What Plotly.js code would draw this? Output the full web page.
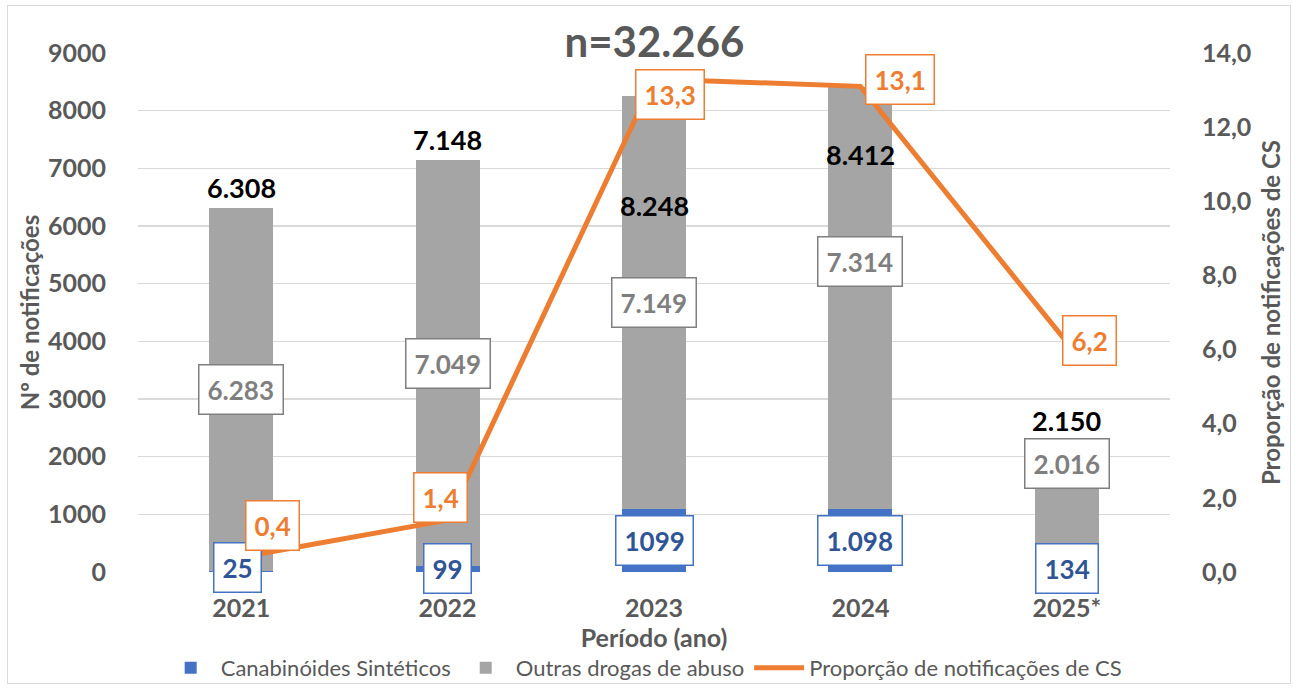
<!DOCTYPE html>
<html>
<head>
<meta charset="utf-8">
<script src="https://cdn.plot.ly/plotly-3.0.1.min.js"></script>
<style>
  html, body { margin: 0; padding: 0; background: #ffffff; }
  #frame { position: absolute; left: 7px; top: 5px; width: 1284px; height: 679px; border: 1.5px solid #d9d9d9; box-sizing: border-box; }
  #chart { position: absolute; left: 0; top: 0; width: 1296px; height: 689px; }
</style>
</head>
<body>
<div id="frame"></div>
<div id="chart"></div>
<script>
// ---- data ----
const years = ['2021', '2022', '2023', '2024', '2025*'];
const csValues = [25, 99, 1099, 1098, 134];
const otherValues = [6283, 7049, 7149, 7314, 2016];
const totalValues = [6308, 7148, 8248, 8412, 2150];
const propValues = [0.4, 1.4, 13.3, 13.1, 6.2];
const csLabels = ['25', '99', '1099', '1.098', '134'];
const otherLabels = ['6.283', '7.049', '7.149', '7.314', '2.016'];
const totalLabels = ['6.308', '7.148', '8.248', '8.412', '2.150'];
const propLabels = ['0,4', '1,4', '13,3', '13,1', '6,2'];
const leftTicks = [0, 1000, 2000, 3000, 4000, 5000, 6000, 7000, 8000, 9000];
const rightTicks = [0, 2, 4, 6, 8, 10, 12, 14];
const rightTickText = ['0,0', '2,0', '4,0', '6,0', '8,0', '10,0', '12,0', '14,0'];
const titleText = 'n=32.266';

// ---- styling ----
const FONT = 'Lato, "Noto Sans", sans-serif';
const BLUE = '#4472c4', GRAY = '#a5a5a5', ORANGE = '#ed7d31';
const TXT = '#595959';

// category positions on the x axis (one slot per year)
const pos = years.map((_, i) => i);

// label offsets (pixels) to mimic the reference placement
const totalShift = [21, 20, -109, -68, 28];
const otherShift = [0, 0, 0, 36, 43];
const csShift = [[-4, 4], [0, 1], [0, 0], [0, 0], [0, 0]];
const propShift = [[31, 32], [-7, 23], [16, -16], [40, 7], [23, 2]];

const traces = [
  { type: 'bar', name: 'Canabinóides Sintéticos', x: pos, y: csValues,
    marker: { color: BLUE }, hoverinfo: 'y' },
  { type: 'bar', name: 'Outras drogas de abuso', x: pos, y: otherValues,
    marker: { color: GRAY }, hoverinfo: 'y' },
  { type: 'scatter', mode: 'lines', name: 'Proporção de notificações de CS', x: pos, y: propValues,
    yaxis: 'y2', line: { color: ORANGE, width: 5 }, hoverinfo: 'y' }
];

const annotations = [];
pos.forEach((p, i) => {
  annotations.push({ x: p, y: totalValues[i], xref: 'x', yref: 'y', text: totalLabels[i],
    showarrow: false, yanchor: 'middle', yshift: totalShift[i],
    font: { family: FONT, size: 27, color: '#000000', weight: 'bold' } });
  annotations.push({ x: p, y: csValues[i] + otherValues[i] / 2, xref: 'x', yref: 'y', text: otherLabels[i],
    showarrow: false, yanchor: 'middle', yshift: otherShift[i],
    font: { family: FONT, size: 26, color: '#7f7f7f', weight: 'bold' },
    bgcolor: '#ffffff', bordercolor: '#7f7f7f', borderwidth: 1.5, borderpad: 8 });
  annotations.push({ x: p, y: csValues[i] / 2, xref: 'x', yref: 'y', text: csLabels[i],
    showarrow: false, yanchor: 'middle', xshift: csShift[i][0], yshift: csShift[i][1],
    font: { family: FONT, size: 26, color: '#2f5597', weight: 'bold' },
    bgcolor: '#ffffff', bordercolor: BLUE, borderwidth: 1.5, borderpad: 8 });
  annotations.push({ x: p, y: propValues[i], xref: 'x', yref: 'y2', text: propLabels[i],
    showarrow: false, yanchor: 'middle', xshift: propShift[i][0], yshift: propShift[i][1],
    font: { family: FONT, size: 26, color: ORANGE, weight: 'bold' },
    bgcolor: '#ffffff', bordercolor: ORANGE, borderwidth: 1.5, borderpad: 8 });
});

const layout = {
  width: 1296, height: 689,
  paper_bgcolor: 'rgba(0,0,0,0)', plot_bgcolor: 'rgba(0,0,0,0)',
  margin: { l: 138, r: 126, t: 53, b: 117, autoexpand: false },
  barmode: 'stack', bargap: 0.69,
  font: { family: FONT, color: TXT },
  title: { text: titleText, x: 0.505, xanchor: 'center', y: 1 - 42 / 689, yref: 'container', yanchor: 'middle',
    font: { family: FONT, size: 42, color: TXT, weight: 'bold' } },
  xaxis: {
    type: 'linear', range: [-0.5, 4.5], tickvals: pos, ticktext: years,
    showgrid: false, zeroline: false, showline: false,
    ticks: 'outside', ticklen: 14, tickcolor: 'rgba(0,0,0,0)',
    tickfont: { family: FONT, size: 25, color: TXT, weight: 'bold' },
    title: { text: 'Período (ano)', standoff: 0, font: { family: FONT, size: 25, color: TXT, weight: 'bold' } }
  },
  yaxis: {
    range: [0, 9000], tickvals: leftTicks, ticktext: leftTicks.map(String),
    showgrid: true, gridcolor: '#d9d9d9', gridwidth: 1.5, zeroline: false, showline: false,
    ticks: 'outside', ticklen: 26, tickcolor: 'rgba(0,0,0,0)',
    tickfont: { family: FONT, size: 25, color: TXT, weight: 'bold' },
    title: { text: 'Nº de notificações', standoff: 1, font: { family: FONT, size: 24, color: TXT, weight: 'bold' } }
  },
  yaxis2: {
    overlaying: 'y', side: 'right', range: [0, 14], tickvals: rightTicks, ticktext: rightTickText,
    showgrid: false, zeroline: false, showline: false,
    ticks: 'outside', ticklen: 26, tickcolor: 'rgba(0,0,0,0)',
    tickfont: { family: FONT, size: 25, color: TXT, weight: 'bold' },
    title: { text: 'Proporção de notificações de CS', standoff: 12, font: { family: FONT, size: 24, color: TXT, weight: 'bold' } }
  },
  legend: { orientation: 'h', x: 0.49, xanchor: 'center', y: -0.185, yanchor: 'middle',
    font: { family: FONT, size: 22, color: TXT }, itemwidth: 50, traceorder: 'normal' },
  annotations: annotations,
  showlegend: true
};

Plotly.newPlot('chart', traces, layout, { displayModeBar: false, staticPlot: true });
</script>
</body>
</html>
